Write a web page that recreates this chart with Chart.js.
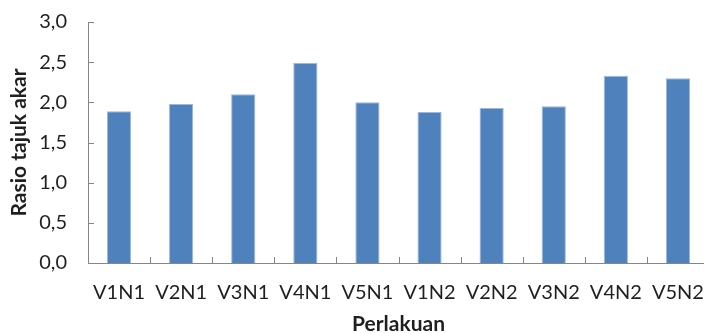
<!DOCTYPE html>
<html>
<head>
<meta charset="utf-8">
<script src="https://cdn.jsdelivr.net/npm/chart.js@4/dist/chart.umd.min.js"></script>
<style>
  html, body { margin: 0; padding: 0; background: #ffffff; overflow: hidden; }
  #wrap { width: 704px; height: 333px; position: relative; overflow: hidden; }
</style>
</head>
<body>
<div id="wrap"><canvas id="chart" width="714" height="333"></canvas></div>
<script>
// Shoot-to-root ratio per treatment
const categories = ['V1N1', 'V2N1', 'V3N1', 'V4N1', 'V5N1', 'V1N2', 'V2N2', 'V3N2', 'V4N2', 'V5N2'];
const ratioValues = [1.89, 1.98, 2.10, 2.49, 2.00, 1.88, 1.93, 1.95, 2.33, 2.30];
const yTickValues = [0, 0.5, 1.0, 1.5, 2.0, 2.5, 3.0];

const axisColor = '#868686';
const textColor = '#1f1f1f';
const fontFamily = 'Lato, "Open Sans", sans-serif';

// Tick marks drawn on the inner side of both axes
const innerTicks = {
  id: 'innerTicks',
  afterDatasetsDraw(chart) {
    const { ctx, chartArea, scales } = chart;
    const x = scales.x, y = scales.y;
    const len = 6;
    ctx.save();
    ctx.strokeStyle = axisColor;
    ctx.lineWidth = 1;
    ctx.beginPath();
    yTickValues.forEach(v => {
      const py = Math.round(y.getPixelForValue(v)) + 0.5;
      ctx.moveTo(chartArea.left, py);
      ctx.lineTo(chartArea.left + len, py);
    });
    for (let i = 1; i <= categories.length; i++) {
      const px = Math.round((x.getPixelForValue(i - 1) + x.getPixelForValue(i)) / 2) + 0.5;
      ctx.moveTo(px, chartArea.bottom);
      ctx.lineTo(px, chartArea.bottom - len);
    }
    ctx.stroke();
    ctx.restore();
  }
};

// Keep the plot area fixed: no extra room reserved for edge labels
function clearPadding(scale) {
  scale.paddingTop = 0; scale.paddingBottom = 0;
  scale.paddingLeft = 0; scale.paddingRight = 0;
}

new Chart(document.getElementById('chart'), {
  type: 'bar',
  data: {
    labels: categories,
    datasets: [{
      data: ratioValues,
      backgroundColor: '#4f81bd',
      borderColor: '#9db8dc',
      borderWidth: 1,
      barPercentage: 0.39,
      categoryPercentage: 1.0
    }]
  },
  options: {
    responsive: false,
    animation: false,
    devicePixelRatio: 1,
    layout: { padding: { top: 22, right: 5, left: 0, bottom: 0 } },
    plugins: { legend: { display: false }, tooltip: { enabled: false } },
    scales: {
      x: {
        grid: { display: true, drawOnChartArea: false, drawTicks: false, tickLength: 0 },
        border: { display: true, color: axisColor, width: 1 },
        ticks: { padding: 18, color: textColor, font: { family: fontFamily, size: 20 }, maxRotation: 0 },
        title: {
          display: true, text: 'Perlakuan', color: textColor,
          font: { family: fontFamily, size: 21, weight: 'bold', lineHeight: 1 },
          padding: { top: 0, bottom: -2 }
        },
        afterFit(scale) { scale.height = 70; clearPadding(scale); }
      },
      y: {
        min: 0, max: 3,
        afterBuildTicks(scale) { scale.ticks = yTickValues.map(v => ({ value: v })); },
        grid: { display: false, drawTicks: false, tickLength: 0 },
        border: { display: true, color: axisColor, width: 1 },
        ticks: {
          padding: 21, color: textColor, font: { family: fontFamily, size: 20 },
          callback: v => v.toFixed(1).replace('.', ',')
        },
        title: {
          display: true, text: 'Rasio tajuk akar', color: textColor,
          font: { family: fontFamily, size: 21, weight: 'bold', lineHeight: 1 },
          padding: { top: 9, bottom: 0 }
        },
        afterFit(scale) { scale.width = 88; clearPadding(scale); }
      }
    }
  },
  plugins: [innerTicks]
});
</script>
</body>
</html>
